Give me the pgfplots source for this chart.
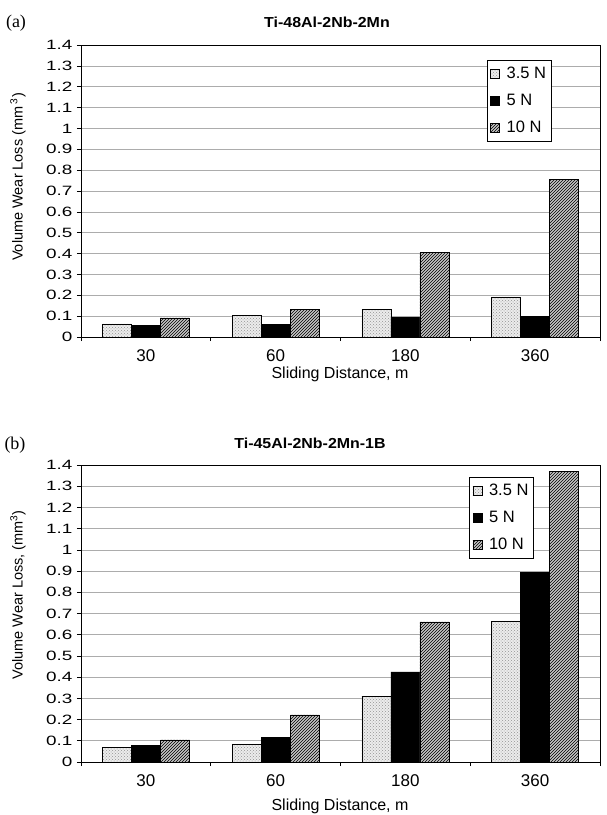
\documentclass[border=0pt]{standalone}
\usepackage{fontspec}
\setmainfont{Liberation Sans}
\newfontfamily\serifa{Liberation Serif}
\newfontfamily\tickfont[FakeStretch=1.4]{Liberation Sans}
\newfontfamily\titlefont[FakeStretch=1.1]{Liberation Sans}
\usepackage{pgfplots}
\usepackage{pgfplotstable}
\pgfplotsset{compat=1.18}
\usetikzlibrary{patterns}

\pgfplotstableread{
x a b c
0 0.063 0.056 0.092
1 0.103 0.060 0.133
2 0.132 0.095 0.406
3 0.192 0.098 0.755
}\dataA

\pgfplotstableread{
x a b c
0 0.068 0.080 0.104
1 0.085 0.117 0.222
2 0.310 0.425 0.660
3 0.665 0.895 1.370
}\dataB

\pgfplotsset{
  sqlegend/.style={legend image code/.code={\draw[##1,line width=0.5pt] (0pt,-5pt) rectangle (9pt,4pt); \path (14pt,0pt);}},
  sA/.style={draw=black, line width=0.6pt, fill=gray!15, postaction={pattern=crosshatch dots, pattern color=gray!85}, bar shift=-0.2235, sqlegend},
  sB/.style={draw=black, line width=0.6pt, fill=black, bar shift=0, sqlegend},
  sC/.style={draw=black, line width=0.6pt, fill=gray!45, postaction={pattern=north east lines, pattern color=black}, bar shift=0.2235, sqlegend},
  wearaxis/.style={
    scale only axis, anchor=south west,
    width=519pt,
    xmin=-0.5, xmax=3.5, ymin=0, ymax=1.4,
    ybar, bar width=0.2235,
    xtick={-0.5,0.5,1.5,2.5,3.5}, xticklabels={},
    extra x ticks={0,1,2,3}, extra x tick labels={30,60,180,360},
    extra x tick style={major tick length=0pt},
    ytick={0,0.1,0.2,0.3,0.4,0.5,0.6,0.7,0.8,0.9,1,1.1,1.2,1.3,1.4},
    yticklabels={0,0.1,0.2,0.3,0.4,0.5,0.6,0.7,0.8,0.9,1,1.1,1.2,1.3,1.4},
    ymajorgrids, grid style={gray!65, line width=0.6pt},
    tick pos=left, tick align=outside, major tick length=4pt,
    tick style={black, line width=0.6pt},
    axis line style={black, line width=0.8pt},
    yticklabel style={font=\tickfont\fontsize{13.5}{13.5}\selectfont, xshift=-1pt},
    xticklabel style={font=\fontsize{17}{17}\selectfont, yshift=-9pt},
    legend cell align=left,
    legend style={anchor=north west, draw=black, line width=0.6pt, fill=white,
      font=\fontsize{16.5}{16.5}\selectfont, inner xsep=3pt, inner ysep=5pt, row sep=10pt},
  }
}

\begin{document}
\begin{tikzpicture}
\useasboundingbox (0pt,0pt) rectangle (606pt,-815pt);

% panel (a)
\node[font=\serifa\fontsize{18}{18}\selectfont] at (16pt,-23pt) {(a)};
\node[font=\titlefont\bfseries\fontsize{14.5}{14.5}\selectfont] at (327pt,-22pt) {Ti-48Al-2Nb-2Mn};
\node[rotate=90, font=\fontsize{14.5}{14.5}\selectfont] at (18pt,-177pt) {Volume Wear Loss (mm\,\textsuperscript{3})};
\node[font=\fontsize{16}{16}\selectfont] at (340pt,-374pt) {Sliding Distance, m};
\begin{axis}[wearaxis, at={(81pt,-337pt)}, height=292pt,
  legend style={at={(0.782,0.949)}}]
\addplot[sA] table[x=x,y=a]{\dataA};
\addplot[sB] table[x=x,y=b]{\dataA};
\addplot[sC] table[x=x,y=c]{\dataA};
\legend{3.5 N,5 N,10 N}
\end{axis}

% panel (b)
\node[font=\serifa\fontsize{18}{18}\selectfont] at (15pt,-445pt) {(b)};
\node[font=\titlefont\bfseries\fontsize{14.5}{14.5}\selectfont] at (310pt,-443pt) {Ti-45Al-2Nb-2Mn-1B};
\node[rotate=90, font=\fontsize{14.5}{14.5}\selectfont] at (18pt,-595pt) {Volume Wear Loss, (mm\textsuperscript{3})};
\node[font=\fontsize{16}{16}\selectfont] at (340pt,-806pt) {Sliding Distance, m};
\begin{axis}[wearaxis, at={(81pt,-762pt)}, height=297pt,
  legend style={at={(0.748,0.96)}}]
\addplot[sA] table[x=x,y=a]{\dataB};
\addplot[sB] table[x=x,y=b]{\dataB};
\addplot[sC] table[x=x,y=c]{\dataB};
\legend{3.5 N,5 N,10 N}
\end{axis}
\end{tikzpicture}
\end{document}
